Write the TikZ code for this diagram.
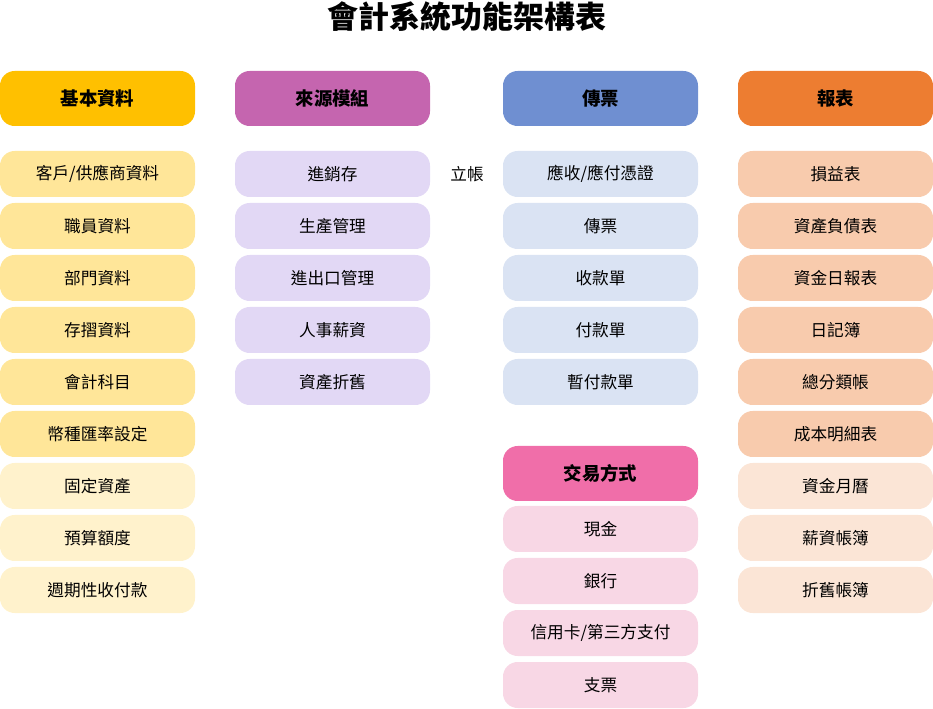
\documentclass[tikz,border=0pt]{standalone}
\usepackage{fontspec}
\setmainfont{Noto Sans CJK TC}
\usepackage{xcolor}
\definecolor{yH}{HTML}{FFC000}
\definecolor{yI}{HTML}{FFE699}
\definecolor{yL}{HTML}{FFF2CC}
\definecolor{pH}{HTML}{C565AF}
\definecolor{pI}{HTML}{E2D8F5}
\definecolor{bH}{HTML}{6F8FD1}
\definecolor{bI}{HTML}{DAE3F3}
\definecolor{oH}{HTML}{ED7D31}
\definecolor{oI}{HTML}{F8CBAD}
\definecolor{oL}{HTML}{FBE5D6}
\definecolor{kH}{HTML}{F06EA9}
\definecolor{kI}{HTML}{F8D7E5}
\begin{document}
\begin{tikzpicture}[x=0.75pt,y=-0.75pt,
  hdrbox/.style={rounded corners=11pt,minimum width=146.25pt,minimum height=41.25pt,inner sep=0pt,font=\fontsize{13.8}{15}\selectfont\bfseries},
  itembox/.style={rounded corners=11pt,minimum width=146.25pt,minimum height=34.5pt,inner sep=0pt,font=\fontsize{12.5}{14}\selectfont},
  plain/.style={inner sep=0pt,font=\fontsize{12.5}{14}\selectfont}]
\useasboundingbox (0,0) rectangle (933,709);
\node[inner sep=0pt,font=\fontsize{23.2}{26}\selectfont\bfseries] (title) at (467,17) {會計系統功能架構表};
% headers
\node[hdrbox,fill=yH] (h1) at (97.5,98.5) {基本資料};
\node[hdrbox,fill=pH] (h2) at (332.5,98.5) {來源模組};
\node[hdrbox,fill=bH] (h3) at (600.5,98.5) {傳票};
\node[hdrbox,fill=oH] (h4) at (835.5,98.5) {報表};
\node[hdrbox,fill=kH] (h5) at (600.5,473.5) {交易方式};
% column 1
\node[itembox,fill=yI] (a1) at (97.5,174) {客戶/供應商資料};
\node[itembox,fill=yI] (a2) at (97.5,226) {職員資料};
\node[itembox,fill=yI] (a3) at (97.5,278) {部門資料};
\node[itembox,fill=yI] (a4) at (97.5,330) {存摺資料};
\node[itembox,fill=yI] (a5) at (97.5,382) {會計科目};
\node[itembox,fill=yI] (a6) at (97.5,434) {幣種匯率設定};
\node[itembox,fill=yL] (a7) at (97.5,486) {固定資產};
\node[itembox,fill=yL] (a8) at (97.5,538) {預算額度};
\node[itembox,fill=yL] (a9) at (97.5,590) {週期性收付款};
% column 2
\node[itembox,fill=pI] (b1) at (332.5,174) {進銷存};
\node[itembox,fill=pI] (b2) at (332.5,226) {生產管理};
\node[itembox,fill=pI] (b3) at (332.5,278) {進出口管理};
\node[itembox,fill=pI] (b4) at (332.5,330) {人事薪資};
\node[itembox,fill=pI] (b5) at (332.5,382) {資產折舊};
% label
\node[plain] (lz) at (467,174) {立帳};
% column 3
\node[itembox,fill=bI] (c1) at (600.5,174) {應收/應付憑證};
\node[itembox,fill=bI] (c2) at (600.5,226) {傳票};
\node[itembox,fill=bI] (c3) at (600.5,278) {收款單};
\node[itembox,fill=bI] (c4) at (600.5,330) {付款單};
\node[itembox,fill=bI] (c5) at (600.5,382) {暫付款單};
\node[itembox,fill=kI] (e1) at (600.5,529) {現金};
\node[itembox,fill=kI] (e2) at (600.5,581) {銀行};
\node[itembox,fill=kI] (e3) at (600.5,633) {信用卡/第三方支付};
\node[itembox,fill=kI] (e4) at (600.5,685) {支票};
% column 4
\node[itembox,fill=oI] (d1) at (835.5,174) {損益表};
\node[itembox,fill=oI] (d2) at (835.5,226) {資產負債表};
\node[itembox,fill=oI] (d3) at (835.5,278) {資金日報表};
\node[itembox,fill=oI] (d4) at (835.5,330) {日記簿};
\node[itembox,fill=oI] (d5) at (835.5,382) {總分類帳};
\node[itembox,fill=oI] (d6) at (835.5,434) {成本明細表};
\node[itembox,fill=oL] (d7) at (835.5,486) {資金月曆};
\node[itembox,fill=oL] (d8) at (835.5,538) {薪資帳簿};
\node[itembox,fill=oL] (d9) at (835.5,590) {折舊帳簿};
\end{tikzpicture}
\end{document}
